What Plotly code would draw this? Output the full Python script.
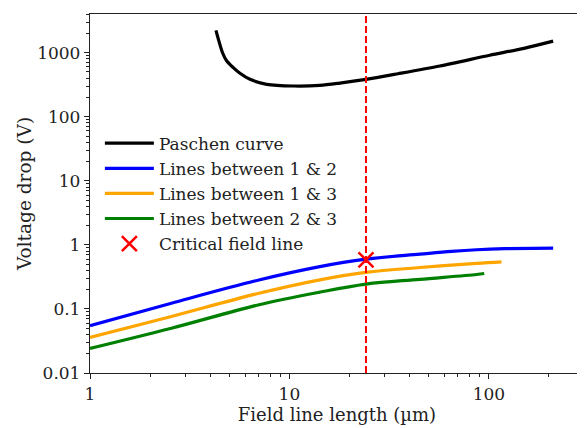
import plotly.graph_objects as go

# ---- data ----
paschen_x = [4.28, 4.63, 4.84, 5.23, 5.65, 6.34, 7.69, 10.45, 14.2, 17.9, 24.2, 35, 56.8, 101, 150, 210]
paschen_y = [2235, 980, 750, 585, 477, 384, 321, 302, 309, 336, 384, 470, 621, 912, 1170, 1515]

blue_x = [1, 2.56, 6.95, 14, 24.2, 45.1, 65, 86.7, 120, 210]
blue_y = [0.0547, 0.123, 0.281, 0.454, 0.598, 0.716, 0.792, 0.84, 0.872, 0.888]

orange_x = [1, 2.56, 6.95, 14, 24.2, 45.1, 86.7, 115.7]
orange_y = [0.0359, 0.0764, 0.174, 0.282, 0.371, 0.443, 0.515, 0.543]

green_x = [1, 2.56, 6.95, 14, 24.2, 45.1, 86.7, 94.8]
green_y = [0.0242, 0.050, 0.115, 0.181, 0.244, 0.290, 0.345, 0.357]

critical_x = [24.2]
critical_y = [0.585]

x_tickvals = [1, 10, 100]
x_ticktext = ["1", "10", "100"]
y_tickvals = [0.01, 0.1, 1, 10, 100, 1000]
y_ticktext = ["0.01", "0.1", "1", "10", "100", "1000"]

FONT = "DejaVu Serif"
LW = 3.2
INK = "#222"

fig = go.Figure()
fig.add_trace(go.Scatter(x=paschen_x, y=paschen_y, mode="lines", name="Paschen curve",
                         line=dict(color="black", width=LW, shape="spline", smoothing=0.8)))
fig.add_trace(go.Scatter(x=blue_x, y=blue_y, mode="lines", name="Lines between 1 &amp; 2",
                         line=dict(color="blue", width=LW, shape="spline", smoothing=1.0)))
fig.add_trace(go.Scatter(x=orange_x, y=orange_y, mode="lines", name="Lines between 1 &amp; 3",
                         line=dict(color="orange", width=LW, shape="spline", smoothing=1.0)))
fig.add_trace(go.Scatter(x=green_x, y=green_y, mode="lines", name="Lines between 2 &amp; 3",
                         line=dict(color="green", width=LW, shape="spline", smoothing=1.0)))
fig.add_trace(go.Scatter(x=critical_x, y=critical_y, mode="markers", name="Critical field line",
                         marker=dict(symbol="x-thin", size=15, color="red",
                                     line=dict(color="red", width=2.5))))

fig.add_shape(type="line", xref="x", yref="paper", x0=critical_x[0], x1=critical_x[0],
              y0=0, y1=1, line=dict(color="red", width=2, dash="7px,3px"), layer="above")

axis_common = dict(
    showline=True, linecolor=INK, linewidth=1.3, mirror=True,
    ticks="outside", ticklen=5, tickwidth=1.1, tickcolor=INK,
    showgrid=False, zeroline=False, automargin=False,
    tickfont=dict(family=FONT, size=17, color=INK),
)

x_minor = [2, 3, 4, 5, 6, 7, 8, 9, 20, 30, 40, 50, 60, 70, 80, 90, 200, 300]
y_minor = [m * d for d in [0.01, 0.1, 1, 10, 100, 1000] for m in range(2, 10)]

fig.update_xaxes(type="log", range=[0, 2.477], tickvals=x_tickvals, ticktext=x_ticktext,
                 title=dict(text="Field line length (µm)", font=dict(family=FONT, size=18, color=INK),
                            standoff=0),
                 minor=dict(tickvals=x_minor, ticks="outside", ticklen=3, tickwidth=0.9, tickcolor=INK),
                 **axis_common)
fig.update_yaxes(type="log", range=[-2, 3.604], tickvals=y_tickvals, ticktext=y_ticktext,
                 title=dict(text="Voltage drop (V)", font=dict(family=FONT, size=18.5, color=INK),
                            standoff=0),
                 minor=dict(tickvals=y_minor, ticks="outside", ticklen=3, tickwidth=0.9, tickcolor=INK),
                 **axis_common)

# the page adds an 8px body margin; the figure is sized so that it fits the 585x428 window
fig.update_layout(
    width=577, height=420,
    margin=dict(l=82, r=1, t=6, b=55),
    paper_bgcolor="white", plot_bgcolor="white",
    font=dict(family=FONT, color=INK),
    showlegend=True,
    legend=dict(x=0.02, y=0.689, xanchor="left", yanchor="top",
                bgcolor="rgba(0,0,0,0)", borderwidth=0,
                font=dict(family=FONT, size=17, color=INK),
                itemwidth=49, tracegroupgap=0),
)

fig.write_html("out.html")
